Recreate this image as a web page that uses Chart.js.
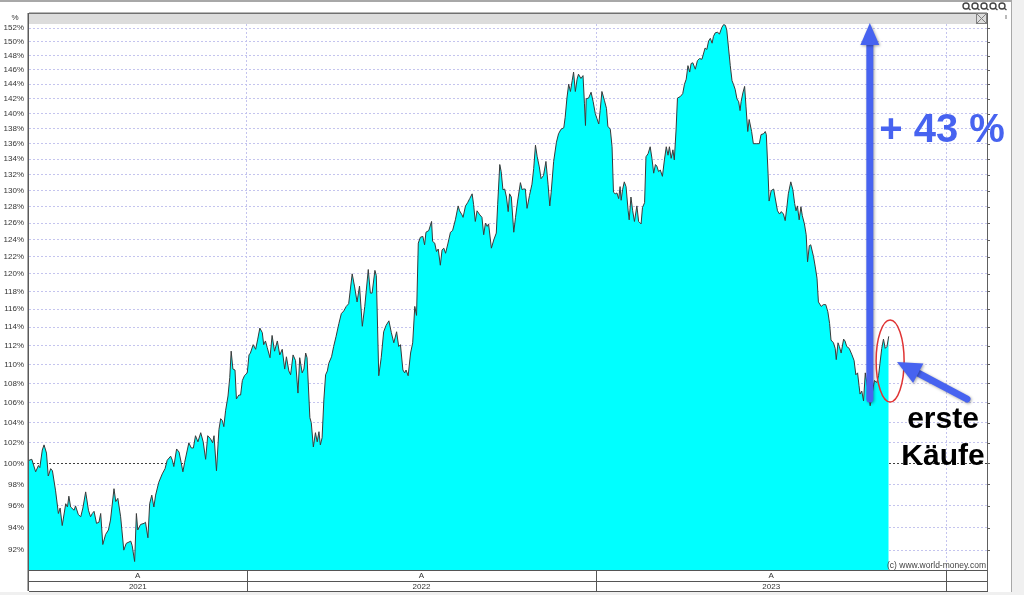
<!DOCTYPE html>
<html>
<head>
<meta charset="utf-8">
<script src="https://cdn.jsdelivr.net/npm/chart.js@4/dist/chart.umd.min.js"></script>
<style>
  html, body { margin: 0; padding: 0; background: #fff; overflow: hidden; }
</style>
</head>
<body>
<canvas id="chart" width="1024" height="595"></canvas>
<script>
// ===================== DATA =====================
// Zeitachse als Dezimaljahr, Werte in Prozent (Start = 100 %)
const years = [
  2021.378, 2021.386, 2021.397, 2021.405, 2021.409, 2021.416, 2021.421, 2021.428, 2021.433, 2021.440,
  2021.445, 2021.454, 2021.462, 2021.467, 2021.473, 2021.483, 2021.488, 2021.492, 2021.497, 2021.507,
  2021.511, 2021.519, 2021.526, 2021.532, 2021.540, 2021.548, 2021.554, 2021.559, 2021.564, 2021.571,
  2021.578, 2021.583, 2021.589, 2021.597, 2021.605, 2021.611, 2021.621, 2021.626, 2021.632, 2021.640,
  2021.649, 2021.656, 2021.669, 2021.673, 2021.680, 2021.685, 2021.689, 2021.697, 2021.707, 2021.711,
  2021.718, 2021.723, 2021.729, 2021.735, 2021.740, 2021.749, 2021.759, 2021.767, 2021.773, 2021.783,
  2021.788, 2021.792, 2021.800, 2021.807, 2021.813, 2021.818, 2021.823, 2021.835, 2021.842, 2021.848,
  2021.854, 2021.861, 2021.869, 2021.876, 2021.883, 2021.889, 2021.897, 2021.903, 2021.907, 2021.914,
  2021.921, 2021.926, 2021.931, 2021.935, 2021.940, 2021.947, 2021.952, 2021.956, 2021.961, 2021.967,
  2021.971, 2021.978, 2021.983, 2021.988, 2021.994, 2022.002, 2022.007, 2022.011, 2022.019, 2022.026,
  2022.032, 2022.038, 2022.045, 2022.049, 2022.054, 2022.059, 2022.067, 2022.073, 2022.080, 2022.088,
  2022.095, 2022.102, 2022.109, 2022.114, 2022.121, 2022.126, 2022.133, 2022.140, 2022.147, 2022.152,
  2022.159, 2022.164, 2022.169, 2022.173, 2022.181, 2022.185, 2022.191, 2022.197, 2022.202, 2022.207,
  2022.211, 2022.216, 2022.221, 2022.226, 2022.231, 2022.235, 2022.243, 2022.249, 2022.256, 2022.264,
  2022.271, 2022.278, 2022.285, 2022.292, 2022.302, 2022.309, 2022.316, 2022.323, 2022.331, 2022.338,
  2022.348, 2022.354, 2022.359, 2022.367, 2022.371, 2022.378, 2022.385, 2022.392, 2022.399, 2022.407,
  2022.414, 2022.421, 2022.429, 2022.435, 2022.440, 2022.447, 2022.452, 2022.456, 2022.462, 2022.469,
  2022.475, 2022.481, 2022.486, 2022.491, 2022.497, 2022.504, 2022.509, 2022.513, 2022.521, 2022.529,
  2022.532, 2022.538, 2022.543, 2022.548, 2022.554, 2022.559, 2022.564, 2022.569, 2022.576, 2022.583,
  2022.589, 2022.597, 2022.605, 2022.609, 2022.616, 2022.619, 2022.626, 2022.632, 2022.638, 2022.645,
  2022.649, 2022.654, 2022.659, 2022.667, 2022.673, 2022.678, 2022.683, 2022.688, 2022.692, 2022.700,
  2022.707, 2022.714, 2022.718, 2022.724, 2022.728, 2022.733, 2022.738, 2022.743, 2022.748, 2022.752,
  2022.757, 2022.764, 2022.769, 2022.775, 2022.783, 2022.788, 2022.792, 2022.797, 2022.802, 2022.809,
  2022.816, 2022.821, 2022.826, 2022.831, 2022.837, 2022.842, 2022.849, 2022.856, 2022.862, 2022.867,
  2022.871, 2022.878, 2022.886, 2022.892, 2022.899, 2022.907, 2022.911, 2022.916, 2022.921, 2022.926,
  2022.931, 2022.935, 2022.940, 2022.945, 2022.949, 2022.956, 2022.962, 2022.966, 2022.969, 2022.971,
  2022.978, 2022.985, 2022.991, 2022.997, 2023.002, 2023.007, 2023.011, 2023.016, 2023.023, 2023.029,
  2023.033, 2023.040, 2023.045, 2023.049, 2023.054, 2023.059, 2023.064, 2023.068, 2023.071, 2023.075,
  2023.080, 2023.085, 2023.091, 2023.094, 2023.099, 2023.104, 2023.109, 2023.116, 2023.121, 2023.128,
  2023.132, 2023.138, 2023.142, 2023.148, 2023.154, 2023.159, 2023.164, 2023.169, 2023.173, 2023.178,
  2023.183, 2023.189, 2023.195, 2023.200, 2023.205, 2023.209, 2023.214, 2023.219, 2023.223, 2023.228,
  2023.232, 2023.240, 2023.247, 2023.252, 2023.257, 2023.262, 2023.267, 2023.271, 2023.276, 2023.283,
  2023.289, 2023.295, 2023.302, 2023.307, 2023.311, 2023.316, 2023.321, 2023.326, 2023.331, 2023.335,
  2023.340, 2023.347, 2023.352, 2023.359, 2023.364, 2023.369, 2023.373, 2023.378, 2023.383, 2023.388,
  2023.392, 2023.397, 2023.402, 2023.407, 2023.411, 2023.414, 2023.419, 2023.424, 2023.428, 2023.433,
  2023.437, 2023.444, 2023.449, 2023.459, 2023.466, 2023.471, 2023.478, 2023.483, 2023.486, 2023.491,
  2023.494, 2023.500, 2023.507, 2023.511, 2023.518, 2023.524, 2023.529, 2023.535, 2023.540, 2023.545,
  2023.549, 2023.556, 2023.562, 2023.567, 2023.571, 2023.575, 2023.580, 2023.585, 2023.589, 2023.595,
  2023.600, 2023.604, 2023.609, 2023.613, 2023.621, 2023.626, 2023.631, 2023.635, 2023.643, 2023.649,
  2023.656, 2023.662, 2023.667, 2023.671, 2023.678, 2023.683, 2023.686, 2023.691, 2023.695, 2023.700,
  2023.707, 2023.711, 2023.716, 2023.723, 2023.731, 2023.737, 2023.742, 2023.747, 2023.751, 2023.754,
  2023.759, 2023.764, 2023.769, 2023.776, 2023.783, 2023.789, 2023.795, 2023.802, 2023.807, 2023.811,
  2023.816, 2023.821, 2023.826, 2023.831, 2023.836
];

const values = [
  100.3, 100.4, 99.2, 99.8, 99.6, 101.3, 101.8, 101.0, 98.8, 99.5,
  99.3, 97.4, 95.3, 95.8, 94.2, 96.2, 95.9, 96.9, 95.9, 95.6,
  96.0, 95.2, 95.0, 95.8, 97.3, 95.6, 95.0, 95.3, 95.5, 94.4,
  94.5, 95.3, 92.5, 93.4, 93.8, 94.7, 97.6, 96.4, 96.7, 95.0,
  92.0, 92.6, 92.8, 92.4, 91.0, 95.3, 93.8, 94.3, 94.4, 94.5,
  93.1, 96.2, 97.0, 95.9, 97.0, 98.2, 99.0, 99.5, 100.3, 100.7,
  100.3, 99.7, 101.4, 101.1, 100.1, 99.2, 100.1, 102.0, 101.5, 101.5,
  102.7, 102.1, 103.0, 102.1, 100.4, 102.7, 102.4, 102.0, 102.7, 99.3,
  103.3, 104.4, 104.2, 103.6, 105.2, 106.7, 108.6, 111.4, 109.5, 109.4,
  106.4, 106.8, 106.8, 108.3, 108.8, 109.1, 111.0, 111.2, 112.1, 111.6,
  112.7, 113.9, 113.4, 112.1, 112.5, 111.8, 110.7, 113.1, 111.4, 112.5,
  111.0, 111.6, 109.5, 110.8, 109.3, 108.9, 111.0, 110.4, 107.0, 110.7,
  109.1, 109.5, 111.2, 110.7, 104.5, 104.0, 101.6, 103.0, 102.1, 103.1,
  101.8, 102.5, 106.3, 108.9, 109.3, 110.1, 110.8, 111.9, 113.0, 114.4,
  115.5, 115.8, 116.3, 116.6, 120.0, 118.5, 116.8, 118.6, 114.1, 116.3,
  120.5, 117.8, 117.8, 120.4, 119.8, 108.8, 110.7, 113.5, 114.2, 114.7,
  113.4, 112.3, 113.5, 111.9, 112.1, 109.4, 109.1, 109.4, 108.8, 111.2,
  112.3, 116.3, 115.3, 123.6, 124.3, 124.4, 123.4, 124.9, 125.1, 126.2,
  123.8, 123.6, 122.6, 122.9, 121.0, 122.8, 123.0, 122.4, 123.6, 124.9,
  125.1, 126.4, 128.1, 127.5, 127.0, 126.7, 128.1, 128.5, 129.0, 129.6,
  128.3, 126.2, 127.5, 127.0, 126.7, 124.6, 126.0, 125.6, 125.9, 123.0,
  124.0, 124.8, 128.3, 133.3, 132.4, 130.1, 130.2, 129.2, 127.4, 129.6,
  129.2, 124.9, 126.7, 128.7, 131.0, 130.1, 130.2, 130.2, 127.8, 129.4,
  130.8, 132.8, 135.8, 134.3, 133.0, 131.5, 131.9, 133.7, 130.8, 128.1,
  129.8, 133.7, 136.2, 137.3, 137.9, 138.1, 139.5, 142.1, 144.0, 143.0,
  144.5, 145.7, 143.0, 144.7, 145.4, 144.8, 145.2, 141.4, 138.4, 142.0,
  142.1, 142.9, 141.6, 140.0, 139.3, 138.6, 140.4, 143.0, 141.8, 140.7,
  138.3, 137.9, 135.6, 129.8, 129.6, 129.7, 129.0, 130.5, 128.8, 130.1,
  131.1, 130.5, 127.5, 126.4, 129.2, 127.5, 126.2, 128.1, 126.2, 125.9,
  127.9, 128.5, 134.3, 134.7, 135.6, 134.1, 132.2, 133.3, 133.1, 132.4,
  132.6, 131.8, 134.0, 135.6, 134.5, 135.6, 134.1, 135.2, 133.9, 137.8,
  142.1, 142.3, 142.7, 144.0, 144.7, 146.6, 145.7, 146.9, 147.0, 146.1,
  147.3, 147.6, 147.5, 148.4, 149.1, 148.9, 150.1, 150.5, 149.8, 150.8,
  151.3, 151.4, 151.1, 152.1, 152.5, 152.4, 151.7, 149.1, 146.6, 144.5,
  144.0, 143.3, 142.0, 141.6, 140.4, 141.6, 142.8, 143.7, 140.9, 137.6,
  139.2, 137.6, 136.0, 136.0, 136.0, 137.2, 137.3, 137.6, 137.2, 132.2,
  128.7, 130.0, 130.2, 129.2, 127.5, 127.1, 127.4, 127.1, 126.3, 128.0,
  129.6, 131.1, 130.1, 128.4, 127.5, 128.1, 126.4, 128.0, 126.9, 125.9,
  124.6, 121.4, 123.3, 123.4, 122.0, 120.8, 119.5, 116.8, 116.3, 116.5,
  116.5, 115.7, 114.4, 112.6, 112.3, 111.7, 110.5, 112.3, 111.9, 111.2,
  112.7, 112.5, 111.9, 111.7, 111.0, 110.4, 108.9, 109.1, 107.8, 106.9,
  107.2, 106.2, 109.1, 107.5, 105.7, 107.0, 108.3, 108.1, 108.8, 110.1,
  111.7, 112.7, 111.7, 111.9, 113.0
];

// Achsen
const yTicks = [92, 94, 96, 98, 100, 102, 104, 106, 108, 110, 112, 114, 116, 118, 120, 122,
  124, 126, 128, 130, 132, 134, 136, 138, 140, 142, 144, 146, 148, 150, 152];
const yearBounds = [2022, 2023, 2024];
const yearLabels = ['2021', '2022', '2023'];
const subLabels = ['A', 'A', 'A'];

const X_MIN = 2021.378;
const X_MAX = 2024.117;
const Y_MIN = 90.26;
const Y_MAX = 152.59;

// Annotation: Tiefpunkt vor den ersten Käufen / Hoch
const arrowYear = 2023.782;
const arrowLow = 106.4;
const circleYear = 2023.84;

const FONT = 'Liberation Sans, Arial, sans-serif';
const BLUE = '#4763f0';

// ========================== HELPER ==========================
function drawArrow(c, x1, y1, x2, y2, w, hw, hl, col) {
  const ang = Math.atan2(y2 - y1, x2 - x1);
  const bx = x2 - Math.cos(ang) * hl;
  const by = y2 - Math.sin(ang) * hl;
  c.save();
  c.shadowColor = 'rgba(0,0,0,0.35)';
  c.shadowBlur = 3;
  c.shadowOffsetX = 1;
  c.shadowOffsetY = 1;
  c.strokeStyle = col;
  c.fillStyle = col;
  c.lineWidth = w;
  c.lineCap = 'round';
  c.beginPath();
  c.moveTo(x1, y1);
  c.lineTo(bx, by);
  c.stroke();
  c.beginPath();
  c.moveTo(x2, y2);
  c.lineTo(bx + Math.sin(ang) * hw / 2, by - Math.cos(ang) * hw / 2);
  c.lineTo(bx - Math.sin(ang) * hw / 2, by + Math.cos(ang) * hw / 2);
  c.closePath();
  c.fill();
  c.restore();
}

// Rahmen, Zeitleiste unten, Annotationen
const framePlugin = {
  id: 'frame',
  beforeDraw(chart) {
    const c = chart.ctx;
    c.save();
    c.fillStyle = '#ffffff';
    c.fillRect(0, 0, 1024, 595);
    c.fillStyle = '#f0f0f0';
    c.fillRect(1012, 0, 12, 595);
    c.fillRect(0, 592, 1024, 3);
    c.fillStyle = '#a8a8a8';
    c.fillRect(0, 0, 1012, 2);
    c.fillRect(1011, 0, 1, 592);
    c.restore();
  },
  afterDraw(chart) {
    const c = chart.ctx;
    const a = chart.chartArea;
    const xs = chart.scales.x;
    const ys = chart.scales.y;
    const rowMid = a.bottom + 11;
    const rowEnd = 591;
    c.save();

    // graue Leiste oben
    c.fillStyle = '#dcdcdc';
    c.fillRect(a.left, 13, a.right - a.left, a.top - 13);
    c.fillStyle = '#707070';
    c.fillRect(a.left, 12.5, a.right - a.left, 1.5);

    // Schliessen-Box
    c.strokeStyle = '#808080';
    c.lineWidth = 1;
    c.strokeRect(976.5, 13.5, 10, 10);
    c.beginPath();
    c.moveTo(976.5, 13.5); c.lineTo(986.5, 23.5);
    c.moveTo(986.5, 13.5); c.lineTo(976.5, 23.5);
    c.stroke();

    // Symbole oben rechts
    c.strokeStyle = '#444';
    c.lineWidth = 1.4;
    for (let i = 0; i < 5; i++) {
      const cx = 966 + i * 9;
      c.beginPath();
      c.arc(cx, 6, 3, 0, Math.PI * 2);
      c.stroke();
      c.beginPath();
      c.moveTo(cx + 2, 8); c.lineTo(cx + 4.5, 10);
      c.stroke();
    }
    c.fillStyle = '#777';
    c.fillRect(1005.5, 15, 1, 4);

    // "%" oben links
    c.fillStyle = '#333';
    c.font = '8px ' + FONT;
    c.textAlign = 'center';
    c.textBaseline = 'middle';
    c.fillText('%', 15, 18);

    // Achsenlinien
    c.fillStyle = '#5a5a5a';
    c.fillRect(a.left - 1.5, 13, 1.5, rowEnd - 13);
    c.fillStyle = '#606060';
    c.fillRect(a.right, 13, 1, rowEnd - 13);
    ys.ticks.forEach(t => {
      const py = Math.round(ys.getPixelForValue(t.value));
      c.fillRect(a.right, py, 3, 1);
    });

    // Zeitleiste unten
    c.fillStyle = '#555';
    c.fillRect(a.left, a.bottom, a.right - a.left, 1);
    c.fillRect(a.left, rowMid, a.right - a.left, 1);
    c.fillRect(a.left, rowEnd, a.right - a.left + 1, 1);
    yearBounds.forEach(v => {
      const px = Math.round(xs.getPixelForValue(v));
      c.fillRect(px, a.bottom, 1, rowEnd - a.bottom);
    });
    const cellEdges = [X_MIN].concat(yearBounds);
    c.fillStyle = '#333';
    c.font = '8px ' + FONT;
    c.textAlign = 'center';
    c.textBaseline = 'middle';
    yearLabels.forEach((lbl, i) => {
      const cx = (xs.getPixelForValue(cellEdges[i]) + xs.getPixelForValue(cellEdges[i + 1])) / 2;
      c.fillText(subLabels[i], cx, a.bottom + 6);
      c.fillText(lbl, cx, rowMid + 6);
    });

    // Copyright
    c.fillStyle = '#444';
    c.font = '8.5px ' + FONT;
    c.textAlign = 'right';
    c.textBaseline = 'alphabetic';
    c.fillText('(c) www.world-money.com', a.right - 1, a.bottom - 2);

    // Pfeil senkrecht + Text
    const ax = xs.getPixelForValue(arrowYear);
    drawArrow(c, ax, ys.getPixelForValue(arrowLow), ax, a.top - 1, 7, 19, 22, BLUE);
    c.fillStyle = BLUE;
    c.font = 'bold 40px ' + FONT;
    c.textAlign = 'center';
    c.fillText('+ 43 %', 942, 142);

    // Ellipse um die letzten Kurse
    c.strokeStyle = '#e03434';
    c.lineWidth = 1.5;
    c.beginPath();
    c.ellipse(xs.getPixelForValue(circleYear), 361, 14, 41, 0, 0, Math.PI * 2);
    c.stroke();

    // Pfeil schraeg
    drawArrow(c, 967, 399, 897, 362, 7, 22, 24, BLUE);

    c.fillStyle = '#000';
    c.font = 'bold 30px ' + FONT;
    c.fillText('erste', 943, 428);
    c.fillText('Käufe', 943, 465);

    c.restore();
  }
};

// ========================== CHART ==========================
const points = years.map((t, i) => ({ x: t, y: values[i] }));

new Chart(document.getElementById('chart'), {
  type: 'line',
  data: {
    datasets: [{
      data: points,
      borderColor: '#3a3a3a',
      borderWidth: 1,
      backgroundColor: '#00ffff',
      fill: 'start',
      pointRadius: 0,
      tension: 0
    }]
  },
  options: {
    responsive: false,
    animation: false,
    devicePixelRatio: 1,
    layout: { padding: { top: 24, right: 37, bottom: 25, left: 0 } },
    plugins: {
      legend: { display: false },
      tooltip: { enabled: false }
    },
    scales: {
      x: {
        type: 'linear',
        min: X_MIN,
        max: X_MAX,
        afterBuildTicks: s => { s.ticks = yearBounds.map(v => ({ value: v })); },
        afterFit: s => { s.height = 0; },
        ticks: { display: false },
        grid: { color: '#c4c4ee', lineWidth: 1, drawTicks: false },
        border: { display: false, dash: [2, 2] }
      },
      y: {
        type: 'logarithmic',
        min: Y_MIN,
        max: Y_MAX,
        afterBuildTicks: s => { s.ticks = yTicks.map(v => ({ value: v })); },
        afterFit: s => { s.width = 29; },
        ticks: {
          autoSkip: false,
          padding: 5,
          color: '#333',
          font: { family: FONT, size: 8 },
          callback: v => v + '%'
        },
        grid: {
          color: ctx => (ctx.tick && ctx.tick.value === 100) ? '#404040' : '#c4c4ee',
          lineWidth: 1,
          drawTicks: false
        },
        border: { display: false, dash: [2, 2] }
      }
    }
  },
  plugins: [framePlugin]
});
</script>
</body>
</html>
